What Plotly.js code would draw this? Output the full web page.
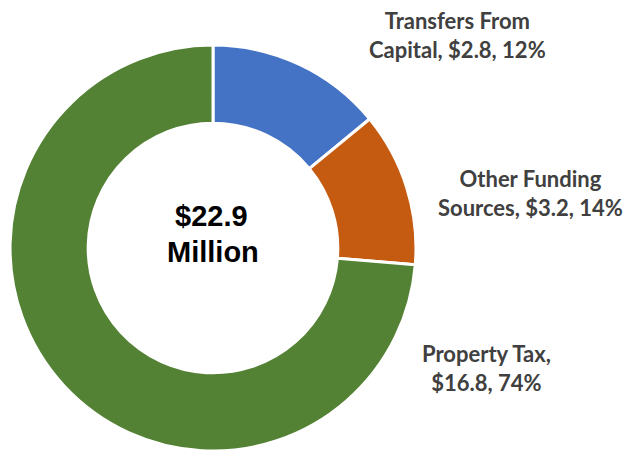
<!DOCTYPE html>
<html>
<head>
<meta charset="utf-8">
<script src="https://cdn.plot.ly/plotly-3.0.1.min.js"></script>
<style>html,body{margin:0;padding:0;background:#fff;}#chart{width:626px;height:451px;}</style>
</head>
<body>
<div id="chart"></div>
<script>
// Slices in drawing order (clockwise from 12 o'clock)
const categories = ["Other Funding Sources", "Transfers From Capital", "Property Tax"];
const values = [3.2, 2.8, 16.8];          // $ million
const percents = [14, 12, 74];
const colors = ["#4472C4", "#C55A11", "#548235"];
const totalLabel = ["$22.9", "Million"];

// Label lines (wrapped as in the reference)
function labelText(i) {
  const full = categories[i] + ", $" + values[i].toFixed(1) + ", " + percents[i] + "%";
  const words = full.split(" ");
  const breakAt = 2;
  return words.slice(0, breakAt).join(" ") + "<br>" + words.slice(breakAt).join(" ");
}

const W = 626, H = 451;
const labelPos = [
  {x: 530, y: 193},   // Other Funding Sources
  {x: 457, y: 35},    // Transfers From Capital
  {x: 486, y: 368}    // Property Tax
];

const labelFont = {family: "Lato, sans-serif", size: 22, color: "#404040", weight: 700};

const annotations = labelPos.map((p, i) => ({
  xref: "paper", yref: "paper",
  x: p.x / W, y: 1 - p.y / H,
  xanchor: "center", yanchor: "middle",
  text: "<b>" + labelText(i) + "</b>",
  showarrow: false, align: "center",
  font: labelFont
}));

annotations.push({
  xref: "paper", yref: "paper", x: 211 / W, y: 1 - 216 / H,
  xanchor: "center", yanchor: "middle", showarrow: false,
  text: "<b>" + totalLabel[0] + "</b>",
  font: {family: "Liberation Sans, Arial, sans-serif", size: 29, color: "#000000"}
});
annotations.push({
  xref: "paper", yref: "paper", x: 213 / W, y: 1 - 252 / H,
  xanchor: "center", yanchor: "middle", showarrow: false,
  text: "<b>" + totalLabel[1] + "</b>",
  font: {family: "Liberation Sans, Arial, sans-serif", size: 29, color: "#000000"}
});

const trace = {
  type: "pie",
  labels: categories,
  values: values,
  hole: 0.615,
  sort: false,
  direction: "clockwise",
  rotation: 0,
  textinfo: "none",
  hoverinfo: "none",
  showlegend: false,
  marker: {colors: colors, line: {color: "#ffffff", width: 3}},
  domain: {x: [10 / W, 416 / W], y: [0, 0.9]}
};

const layout = {
  width: W, height: H,
  margin: {l: 0, r: 0, t: 0, b: 0},
  paper_bgcolor: "#ffffff",
  plot_bgcolor: "#ffffff",
  showlegend: false,
  annotations: annotations
};

Plotly.newPlot("chart", [trace], layout, {displayModeBar: false, staticPlot: true});
</script>
</body>
</html>
